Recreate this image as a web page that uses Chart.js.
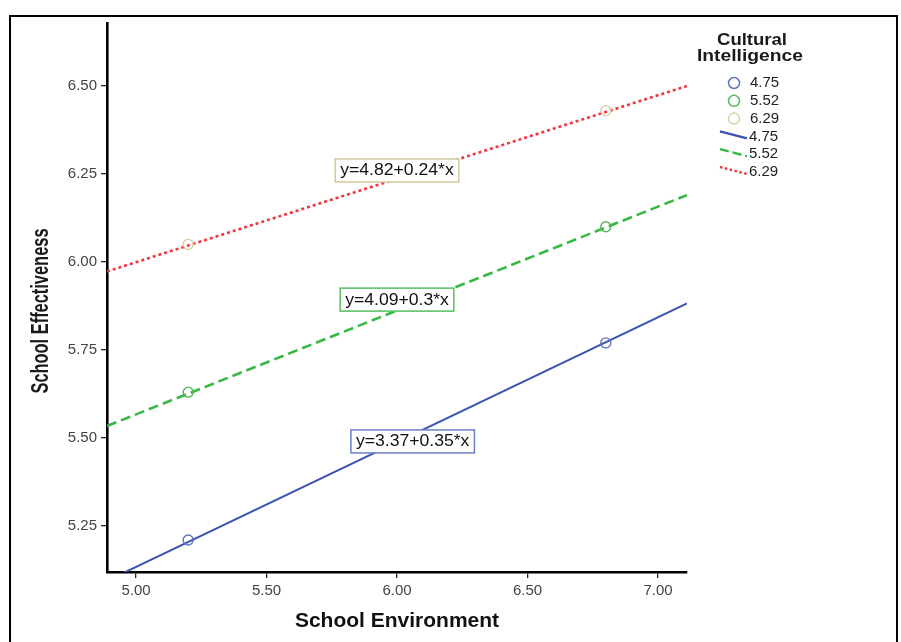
<!DOCTYPE html>
<html>
<head>
<meta charset="utf-8">
<script src="https://cdn.jsdelivr.net/npm/chart.js@4.4.0/dist/chart.umd.min.js"></script>
<style>
  html, body { margin: 0; padding: 0; background: #fff; }
  #frame { position: absolute; left: 9px; top: 15px; width: 889px; height: 700px; border: 2px solid #000; box-sizing: border-box; }
  #wrap { position: absolute; left: 0; top: 0; width: 901px; height: 642px; }
</style>
</head>
<body>
<div id="frame"></div>
<div id="wrap"><canvas id="chart" width="901" height="642"></canvas></div>
<script>
// Cultural Intelligence levels
const groups = ['4.75', '5.52', '6.29'];
// group means at two school-environment values
const meanX = [5.2, 6.8];
const meanLow = [5.21, 5.77];
const meanMid = [5.63, 6.10];
const meanHigh = [6.05, 6.43];
// fit lines, read at the axis limits
const fitX = [4.889, 7.111];
const fitLow = [5.094, 5.882];
const fitMid = [5.534, 6.190];
const fitHigh = [5.973, 6.500];
const equations = ['y=3.37+0.35*x', 'y=4.09+0.3*x', 'y=4.82+0.24*x'];
const xTicks = [5.0, 5.5, 6.0, 6.5, 7.0];
const yTicks = [5.25, 5.5, 5.75, 6.0, 6.25, 6.5];

const FONT = "'Liberation Sans', Arial, sans-serif";
const pointColors = ['#6174c0', '#4fb85a', '#d8cfa6'];
const lineColors = ['#3d53b2', '#37b844', '#f2353c'];
const lineDashes = [[], [10, 5], [3, 3]];
const boxColors = ['#6b7fc8', '#55c060', '#d3c99c'];
// where the equation boxes sit, in data units
const eqAnchors = [[6.06, 5.49], [6.0, 5.893], [6.0, 6.26]];

const means = [meanLow, meanMid, meanHigh];
const fits = [fitLow, fitMid, fitHigh];

const datasets = [];
groups.forEach((g, i) => {
  datasets.push({
    type: 'scatter',
    label: g,
    data: meanX.map((x, k) => ({ x, y: means[i][k] })),
    pointStyle: 'circle',
    pointRadius: 5,
    borderColor: pointColors[i],
    backgroundColor: 'rgba(0,0,0,0)',
    pointBorderWidth: 1.4,
    showLine: false
  });
});
groups.forEach((g, i) => {
  datasets.push({
    type: 'line',
    label: g,
    data: fitX.map((x, k) => ({ x, y: fits[i][k] })),
    borderColor: lineColors[i],
    borderWidth: i === 0 ? 2 : 2.6,
    borderDash: lineDashes[i],
    pointRadius: 0,
    fill: false,
    tension: 0
  });
});

function drawText(ctx, text, x, y, o) {
  ctx.save();
  ctx.translate(x, y);
  if (o.rot) ctx.rotate(o.rot);
  ctx.font = o.font;
  const w = ctx.measureText(text).width;
  const sx = o.width ? o.width / w : (o.sx || 1);
  ctx.scale(sx, 1);
  ctx.textAlign = o.align || 'center';
  ctx.textBaseline = 'middle';
  ctx.fillStyle = o.color || '#1a1a1a';
  ctx.fillText(text, 0, 0);
  ctx.restore();
  return w * sx;
}

const extras = {
  id: 'extras',
  afterDatasetsDraw(chart) {
    const { ctx, scales: { x, y } } = chart;
    equations.forEach((t, i) => {
      const px = x.getPixelForValue(eqAnchors[i][0]);
      const py = y.getPixelForValue(eqAnchors[i][1]);
      ctx.font = '16px ' + FONT;
      const w = ctx.measureText(t).width * 1.1;
      const bw = w + 10, bh = 23;
      ctx.fillStyle = '#fff';
      ctx.fillRect(px - bw / 2, py - bh / 2, bw, bh);
      ctx.strokeStyle = boxColors[i];
      ctx.lineWidth = 1.5;
      ctx.strokeRect(px - bw / 2, py - bh / 2, bw, bh);
      drawText(ctx, t, px, py + 0.5, { font: '16px ' + FONT, sx: 1.1, color: '#111' });
    });
  },
  afterDraw(chart) {
    const { ctx } = chart;
    // y axis title
    drawText(ctx, 'School Effectiveness', 42, 311, { font: 'bold 23px ' + FONT, width: 165, rot: -Math.PI / 2 });
    // legend
    drawText(ctx, 'Cultural', 752, 41, { font: 'bold 16px ' + FONT, width: 70 });
    drawText(ctx, 'Intelligence', 750, 57, { font: 'bold 16px ' + FONT, width: 106 });
    const rowY = (r) => 83 + r * 17.8;
    groups.forEach((g, i) => {
      const yy = rowY(i);
      ctx.save();
      ctx.beginPath();
      ctx.arc(734, yy, 5.5, 0, Math.PI * 2);
      ctx.strokeStyle = pointColors[i];
      ctx.lineWidth = 1.5;
      ctx.stroke();
      ctx.restore();
      drawText(ctx, g, 750, yy, { font: '15px ' + FONT, align: 'left', color: '#222' });
    });
    groups.forEach((g, i) => {
      const yy = rowY(i + 3);
      ctx.save();
      ctx.beginPath();
      ctx.moveTo(720, yy - 5);
      ctx.lineTo(747, yy + 2);
      ctx.strokeStyle = lineColors[i];
      ctx.lineWidth = 2.4;
      ctx.setLineDash(i === 1 ? [9, 4] : i === 2 ? [2.5, 2.5] : []);
      ctx.stroke();
      ctx.restore();
      drawText(ctx, g, 749, yy, { font: '15px ' + FONT, align: 'left', color: '#222' });
    });
  }
};

const tickFont = { family: FONT, size: 15 };

new Chart(document.getElementById('chart'), {
  type: 'scatter',
  data: { datasets },
  options: {
    responsive: false,
    animation: false,
    devicePixelRatio: 1,
    layout: { padding: { left: 0, top: 23, right: 214, bottom: 0 } },
    plugins: { legend: { display: false }, tooltip: { enabled: false } },
    scales: {
      x: {
        type: 'linear',
        min: fitX[0],
        max: fitX[1],
        afterBuildTicks: s => { s.ticks = xTicks.map(v => ({ value: v })); },
        afterFit: s => { s.height = 70; },
        ticks: { callback: v => Number(v).toFixed(2), font: tickFont, color: '#444', padding: 4, autoSkip: false, maxRotation: 0 },
        grid: { drawOnChartArea: false, drawTicks: true, tickLength: 6, color: '#222', lineWidth: 1.3 },
        border: { display: true, color: '#000', width: 2.6 },
        title: { display: true, text: 'School Environment', color: '#111', font: { family: FONT, size: 21, weight: 'bold' }, padding: { top: 0, bottom: 8 } }
      },
      y: {
        type: 'linear',
        min: 5.119,
        max: 6.679,
        afterBuildTicks: s => { s.ticks = yTicks.map(v => ({ value: v })); },
        afterFit: s => { s.width = 107; },
        ticks: { callback: v => Number(v).toFixed(2), font: tickFont, color: '#444', padding: 4, autoSkip: false },
        grid: { drawOnChartArea: false, drawTicks: true, tickLength: 6, color: '#222', lineWidth: 1.3 },
        border: { display: true, color: '#000', width: 2.6 }
      }
    }
  },
  plugins: [extras]
});
</script>
</body>
</html>
